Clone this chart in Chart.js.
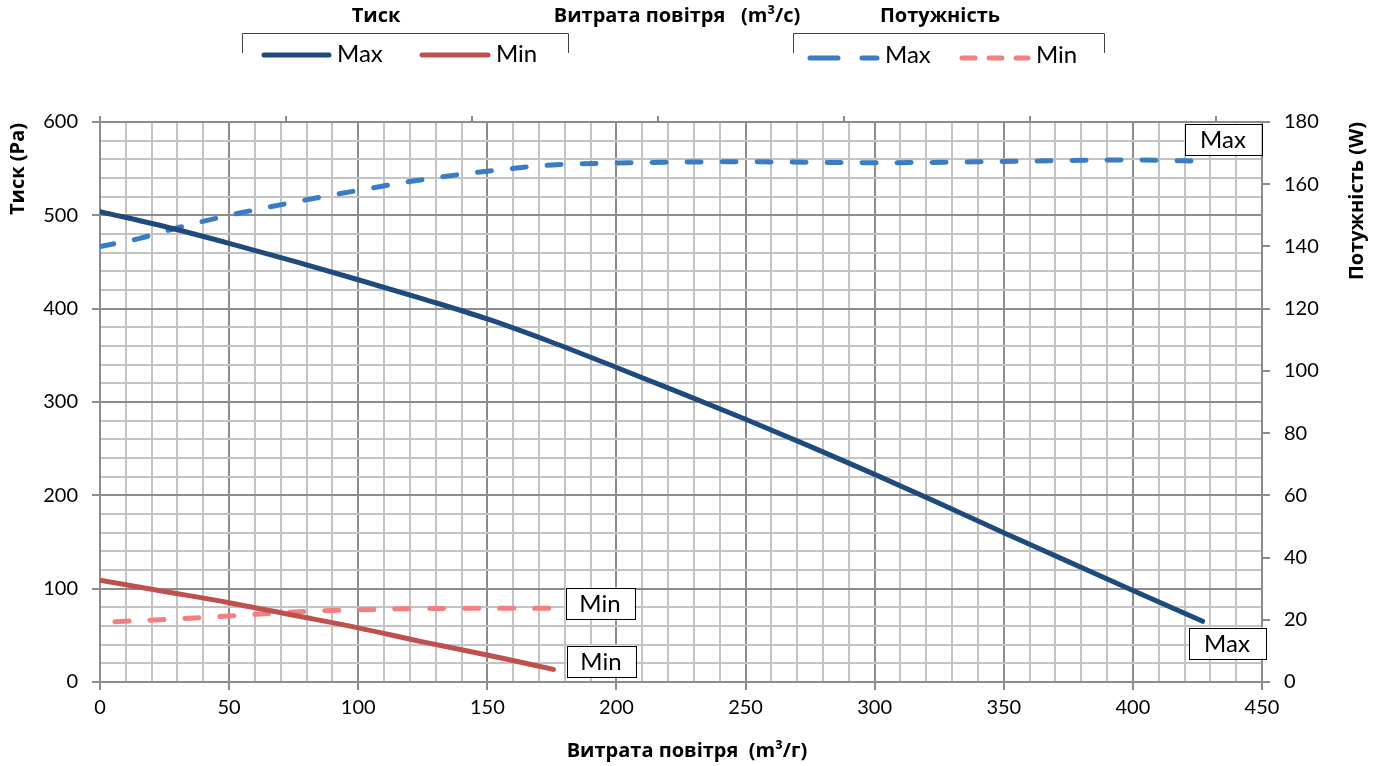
<!DOCTYPE html>
<html>
<head>
<meta charset="utf-8">
<title>Fan curve</title>
<script src="https://cdn.jsdelivr.net/npm/chart.js@4/dist/chart.umd.min.js"></script>
<style>
    html, body { margin: 0; padding: 0; background: #fff; }
</style>
</head>
<body>
<canvas id="fanChart" width="1381" height="766"></canvas>
<script>
// Air flow (m3/h) and pressure (Pa) / power (W)
const maxPressureFlow = [0, 25, 50, 75, 100, 125, 150, 175, 200, 225, 250, 275, 300, 325, 350, 375, 400, 427];
const maxPressure = [504, 488, 470, 451, 431, 410.5, 389, 364, 337, 309.5, 281.5, 252.5, 222.5, 191.5, 160, 129, 98, 65];

const minPressureFlow = [0, 25, 50, 75, 100, 125, 155, 175.6];
const minPressure = [109, 97, 85, 71.5, 58, 43, 26, 13.5];

const maxPowerFlow = [0, 15, 30, 50, 80, 100, 125, 150, 175, 200, 250, 300, 350, 400, 427];
const maxPower = [140, 142.5, 146, 150, 155, 158, 161.5, 164.2, 166.2, 166.8, 167.2, 166.9, 167.3, 167.8, 167.4];

const minPowerFlow = [5.8, 25, 50, 75, 100, 125, 150, 176];
const minPower = [19.4, 20.1, 21.2, 22.5, 23.2, 23.6, 23.7, 23.7];

// axis ranges
const flowRange = [0, 450];       // m3/h
const pressureRange = [0, 600];   // Pa
const powerRange = [0, 180];      // W

const seriesNames = ['Max', 'Min'];

const darkBlue = '#1f4a7c';
const lightBlue = '#3a7dc4';
const darkRed = '#c0504d';
const pink = '#f28080';
const majorGrid = '#8c8c8c';
const minorGrid = '#c3c3c3';

function points(xs, ys) {
    return xs.map((x, i) => ({ x: x, y: ys[i] }));
}

// Header: two legend groups with brackets, plus the m3/s axis title
const headerPlugin = {
    id: 'header',
    afterDraw(chart) {
        const ctx = chart.ctx;
        ctx.save();
        ctx.fillStyle = '#000';
        ctx.textBaseline = 'middle';
        ctx.textAlign = 'center';
        ctx.font = 'bold 20px "Open Sans"';
        ctx.fillText('Тиск', 376, 16);
        ctx.fillText('Витрата повітря   (m³/c)', 677, 16);
        ctx.fillText('Потужність', 940, 16);

        // brackets
        ctx.strokeStyle = '#404040';
        ctx.lineWidth = 1;
        [[242.5, 568.5], [793.5, 1104.5]].forEach(b => {
            ctx.beginPath();
            ctx.moveTo(b[0], 53);
            ctx.lineTo(b[0], 33.5);
            ctx.lineTo(b[1], 33.5);
            ctx.lineTo(b[1], 53);
            ctx.stroke();
        });

        ctx.lineWidth = 5;
        ctx.lineCap = 'round';
        function sample(x1, x2, y, color, dash) {
            ctx.strokeStyle = color;
            ctx.setLineDash(dash);
            ctx.beginPath();
            ctx.moveTo(x1, y);
            ctx.lineTo(x2, y);
            ctx.stroke();
        }
        sample(264, 329, 55, darkBlue, []);
        sample(422, 488, 55, darkRed, []);
        sample(810, 877, 58, lightBlue, [28, 24]);
        sample(962, 1028, 58, pink, [13, 14]);
        ctx.setLineDash([]);

        ctx.textAlign = 'left';
        ctx.font = '24px Lato';
        ctx.fillText(seriesNames[0], 337, 54);
        ctx.fillText(seriesNames[1], 496, 54);
        ctx.fillText(seriesNames[0], 885, 55);
        ctx.fillText(seriesNames[1], 1036, 55);

        // axis titles
        ctx.font = 'bold 20px "Open Sans"';
        ctx.textAlign = 'center';
        ctx.fillText('Витрата повітря  (m³/г)', 687, 751);

        ctx.save();
        ctx.translate(18, 169);
        ctx.rotate(-Math.PI / 2);
        ctx.fillText('Тиск (Pa)', 0, 0);
        ctx.restore();

        ctx.save();
        ctx.translate(1357, 201);
        ctx.rotate(-Math.PI / 2);
        ctx.fillText('Потужність (W)', 0, 0);
        ctx.restore();

        ctx.restore();
    }
};

// Boxed "Max"/"Min" labels next to the end of each curve
const endLabels = [
    { dataset: 0, text: 'Max', dx: 24, dy: 22, w: 77 },
    { dataset: 1, text: 'Min', dx: 48, dy: -8, w: 69 },
    { dataset: 2, text: 'Max', dx: 20, dy: -22, w: 77 },
    { dataset: 3, text: 'Min', dx: 46, dy: -5, w: 69 }
];

const endLabelPlugin = {
    id: 'endLabels',
    afterDatasetsDraw(chart) {
        const ctx = chart.ctx;
        ctx.save();
        ctx.font = '24px Lato';
        ctx.textAlign = 'center';
        ctx.textBaseline = 'middle';
        endLabels.forEach(l => {
            const pts = chart.getDatasetMeta(l.dataset).data;
            const last = pts[pts.length - 1];
            const cx = Math.round(last.x + l.dx);
            const cy = Math.round(last.y + l.dy);
            const h = 31;
            ctx.fillStyle = '#fff';
            ctx.fillRect(cx - l.w / 2, cy - h / 2, l.w, h);
            ctx.strokeStyle = '#000';
            ctx.lineWidth = 1;
            ctx.strokeRect(Math.round(cx - l.w / 2) + 0.5, Math.round(cy - h / 2) + 0.5, l.w, h);
            ctx.fillStyle = '#000';
            ctx.fillText(l.text, cx, cy + 1);
        });
        ctx.restore();
    }
};

const canvas = document.getElementById('fanChart');
new Chart(canvas, {
    type: 'line',
    data: {
        datasets: [{
            label: 'Тиск Max',
            data: points(maxPressureFlow, maxPressure),
            borderColor: darkBlue,
            borderWidth: 5,
            yAxisID: 'y',
            xAxisID: 'x'
        }, {
            label: 'Тиск Min',
            data: points(minPressureFlow, minPressure),
            borderColor: darkRed,
            borderWidth: 5,
            yAxisID: 'y',
            xAxisID: 'x'
        }, {
            label: 'Потужність Max',
            data: points(maxPowerFlow, maxPower),
            borderColor: lightBlue,
            borderWidth: 5,
            borderDash: [14, 21],
            yAxisID: 'y2',
            xAxisID: 'x'
        }, {
            label: 'Потужність Min',
            data: points(minPowerFlow, minPower),
            borderColor: pink,
            borderWidth: 5,
            borderDash: [14, 21],
            yAxisID: 'y2',
            xAxisID: 'x'
        }]
    },
    options: {
        responsive: false,
        animation: false,
        layout: { padding: 0 },
        elements: {
            point: { radius: 0, hoverRadius: 0 },
            line: { cubicInterpolationMode: 'monotone', borderCapStyle: 'round', fill: false }
        },
        plugins: {
            legend: { display: false },
            tooltip: { enabled: false }
        },
        scales: {
            x: {
                type: 'linear',
                position: 'bottom',
                min: flowRange[0],
                max: flowRange[1],
                afterFit: s => { s.height = 84; },
                ticks: {
                    stepSize: 10,
                    autoSkip: false,
                    maxRotation: 0,
                    color: '#000',
                    font: { family: 'Lato', size: 20 },
                    padding: 6,
                    callback: v => (v % 50 === 0 ? v : '')
                },
                grid: {
                    color: c => (c.tick && c.tick.value % 50 === 0 ? majorGrid : minorGrid),
                    tickColor: c => (c.tick && c.tick.value % 50 === 0 ? majorGrid : 'rgba(0,0,0,0)'),
                    lineWidth: 2,
                    tickLength: 8
                },
                border: { color: majorGrid, width: 2 }
            },
            x2: {
                type: 'linear',
                position: 'top',
                min: flowRange[0] / 3600,
                max: flowRange[1] / 3600,
                afterFit: s => { s.height = 122; },
                ticks: { display: false, stepSize: 0.02, includeBounds: false },
                grid: { drawOnChartArea: false, color: majorGrid, lineWidth: 2, tickLength: 6 },
                border: { color: majorGrid, width: 2 }
            },
            y: {
                type: 'linear',
                position: 'left',
                min: pressureRange[0],
                max: pressureRange[1],
                afterFit: s => { s.width = 100; },
                ticks: {
                    stepSize: 20,
                    autoSkip: false,
                    color: '#000',
                    font: { family: 'Lato', size: 20 },
                    padding: 14,
                    callback: v => (v % 100 === 0 ? v : '')
                },
                grid: {
                    color: c => (c.tick && c.tick.value % 100 === 0 ? majorGrid : minorGrid),
                    tickColor: c => (c.tick && c.tick.value % 100 === 0 ? majorGrid : 'rgba(0,0,0,0)'),
                    lineWidth: 2,
                    tickLength: 8
                },
                border: { color: majorGrid, width: 2 }
            },
            y2: {
                type: 'linear',
                position: 'right',
                min: powerRange[0],
                max: powerRange[1],
                afterFit: s => { s.width = 119; },
                ticks: {
                    stepSize: 20,
                    autoSkip: false,
                    color: '#000',
                    font: { family: 'Lato', size: 20 },
                    padding: 14
                },
                grid: { drawOnChartArea: false, color: majorGrid, lineWidth: 2, tickLength: 8 },
                border: { color: majorGrid, width: 2 }
            }
        }
    },
    plugins: [headerPlugin, endLabelPlugin]
});
</script>
</body>
</html>
